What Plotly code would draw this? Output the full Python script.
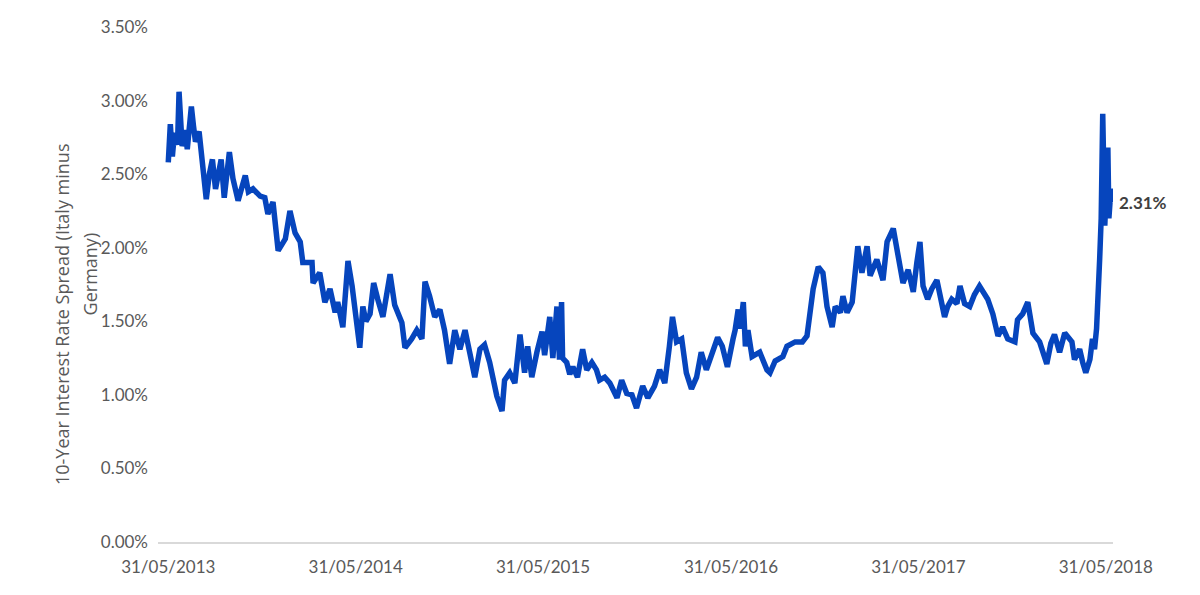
import plotly.graph_objects as go

dates = [
    "2013-05-31","2013-06-04","2013-06-08","2013-06-12","2013-06-18","2013-06-21","2013-06-27","2013-07-03",
    "2013-07-07","2013-07-15","2013-07-19","2013-07-23","2013-07-30","2013-08-05","2013-08-13","2013-08-19",
    "2013-08-25","2013-08-31","2013-09-06","2013-09-11","2013-09-17","2013-09-27","2013-10-04","2013-10-14",
    "2013-10-28","2013-11-03","2013-11-12","2013-11-26","2013-12-05","2013-12-11","2013-12-21","2013-12-31",
    "2014-01-14","2014-01-23","2014-02-02","2014-02-12","2014-02-17","2014-03-07","2014-03-09","2014-03-22",
    "2014-04-01","2014-04-11","2014-04-21","2014-04-26","2014-05-06","2014-05-16","2014-05-24","2014-05-30",
    "2014-06-08","2014-06-14","2014-06-20","2014-06-28","2014-07-05","2014-07-13","2014-07-23","2014-08-06",
    "2014-08-15","2014-08-29","2014-09-04","2014-09-17","2014-09-27","2014-10-07","2014-10-13","2014-10-22",
    "2014-11-01","2014-11-11","2014-11-20","2014-11-30","2014-12-10","2014-12-20","2014-12-30","2015-01-08",
    "2015-01-18","2015-01-28","2015-02-06","2015-02-16","2015-03-02","2015-03-12","2015-03-17","2015-03-27",
    "2015-04-06","2015-04-16","2015-04-25","2015-05-01","2015-05-09","2015-05-19","2015-05-29",
    "2015-06-03","2015-06-07","2015-06-13","2015-06-19","2015-06-27","2015-07-02","2015-07-06","2015-07-08",
    "2015-07-16","2015-07-22","2015-07-28","2015-08-06","2015-08-16","2015-08-24","2015-09-03","2015-09-12",
    "2015-09-18","2015-09-28","2015-10-08","2015-10-22","2015-10-31","2015-11-10","2015-11-20","2015-11-29",
    "2015-12-05","2015-12-11","2015-12-21","2016-01-03","2016-01-13","2016-01-23","2016-02-01","2016-02-07",
    "2016-02-15","2016-02-25","2016-03-05","2016-03-15","2016-03-25","2016-04-03","2016-04-13","2016-04-23",
    "2016-05-05","2016-05-14","2016-05-24",
    "2016-06-04","2016-06-08","2016-06-14","2016-06-18","2016-06-24","2016-06-28","2016-07-03","2016-07-11",
    "2016-07-26","2016-08-09","2016-08-15","2016-08-25","2016-09-09","2016-09-17","2016-10-03","2016-10-17",
    "2016-10-26","2016-11-01","2016-11-07","2016-11-17","2016-11-26","2016-12-04","2016-12-14","2016-12-20",
    "2016-12-30","2017-01-04","2017-01-12","2017-01-22","2017-01-28","2017-02-02","2017-02-10","2017-02-20",
    "2017-02-26","2017-03-11","2017-03-23","2017-03-31","2017-04-12","2017-04-21","2017-05-01","2017-05-11",
    "2017-05-21","2017-05-28",
    "2017-06-03","2017-06-09","2017-06-18","2017-06-26","2017-07-06","2017-07-21","2017-07-27","2017-08-04",
    "2017-08-14","2017-08-20","2017-08-29","2017-09-08","2017-09-17","2017-09-27","2017-10-13","2017-10-23",
    "2017-11-02","2017-11-11","2017-11-21","2017-12-05","2017-12-10","2017-12-20","2017-12-30","2018-01-09",
    "2018-01-22","2018-02-05","2018-02-13","2018-02-20","2018-03-02","2018-03-12","2018-03-26","2018-03-31",
    "2018-04-10","2018-04-16","2018-04-22","2018-04-30","2018-05-05","2018-05-09","2018-05-13","2018-05-19",
    "2018-05-22","2018-05-25","2018-05-29","2018-06-02","2018-06-04","2018-06-06","2018-06-08","2018-06-10",
    "2018-06-13",
]

spread = [
    2.58,2.84,2.62,2.78,2.70,3.06,2.69,2.80,
    2.67,2.96,2.83,2.72,2.79,2.55,2.33,2.50,
    2.60,2.40,2.52,2.60,2.34,2.65,2.47,2.32,
    2.49,2.38,2.40,2.35,2.34,2.23,2.31,1.98,
    2.06,2.25,2.10,2.04,1.90,1.90,1.76,1.83,
    1.63,1.72,1.56,1.63,1.46,1.91,1.74,1.58,
    1.32,1.60,1.50,1.55,1.76,1.65,1.53,1.82,
    1.61,1.49,1.32,1.38,1.44,1.38,1.77,1.67,
    1.53,1.58,1.44,1.21,1.44,1.31,1.44,1.29,
    1.12,1.31,1.34,1.22,0.99,0.89,1.10,1.15,
    1.08,1.41,1.15,1.33,1.12,1.29,1.43,
    1.27,1.40,1.53,1.25,1.60,1.24,1.63,1.25,
    1.22,1.14,1.19,1.12,1.31,1.17,1.22,1.17,
    1.10,1.12,1.08,0.98,1.10,1.01,1.00,0.91,
    1.00,1.06,0.98,1.06,1.17,1.08,1.33,1.53,
    1.36,1.38,1.15,1.04,1.12,1.29,1.17,1.26,
    1.39,1.33,1.19,
    1.38,1.44,1.58,1.45,1.63,1.33,1.44,1.26,
    1.29,1.17,1.15,1.23,1.26,1.33,1.36,1.36,
    1.40,1.60,1.72,1.87,1.83,1.60,1.46,1.60,
    1.56,1.67,1.56,1.63,1.87,2.01,1.83,2.01,
    1.81,1.92,1.78,2.04,2.13,1.97,1.76,1.85,
    1.70,1.90,
    2.04,1.74,1.65,1.72,1.78,1.53,1.60,1.65,
    1.62,1.74,1.62,1.60,1.68,1.74,1.65,1.55,
    1.40,1.46,1.38,1.36,1.51,1.55,1.63,1.42,
    1.36,1.21,1.35,1.41,1.29,1.42,1.36,1.24,
    1.31,1.22,1.15,1.24,1.38,1.31,1.45,1.92,
    2.20,2.91,2.15,2.50,2.68,2.20,2.26,2.40,
    2.31,
]

tick_dates = ["2013-05-31", "2014-05-31", "2015-05-31", "2016-05-31", "2017-05-31", "2018-05-31"]
tick_labels = ["31/05/2013", "31/05/2014", "31/05/2015", "31/05/2016", "31/05/2017", "31/05/2018"]
y_ticks = [0.0, 0.5, 1.0, 1.5, 2.0, 2.5, 3.0, 3.5]
y_tick_labels = ["0.00%", "0.50%", "1.00%", "1.50%", "2.00%", "2.50%", "3.00%", "3.50%"]

end_label = "2.31%"
y_title_1 = "10-Year Interest Rate Spread (Italy minus"
y_title_2 = "Germany)"

FONT = "Lato"
TITLE_FONT = "Open Sans"
GREY = "#595959"

fig = go.Figure()
fig.add_trace(go.Scatter(
    x=dates, y=spread, mode="lines",
    line=dict(color="#0645BD", width=5.5),
    hoverinfo="skip", showlegend=False,
))

fig.update_layout(
    width=1200, height=595,
    margin=dict(l=158, r=87, t=27, b=53),
    paper_bgcolor="white", plot_bgcolor="white",
    font=dict(family=FONT, color=GREY, size=17),
    xaxis=dict(
        type="date", range=["2013-05-11", "2018-06-14"],
        tickvals=tick_dates, ticktext=tick_labels,
        showgrid=False, zeroline=False,
        showline=True, linecolor="#D9D9D9", linewidth=2,
        ticks="", ticklabelstandoff=9, automargin=False,
        tickfont=dict(family=FONT, size=17, color=GREY),
    ),
    yaxis=dict(
        range=[0, 3.5], tickvals=y_ticks, ticktext=y_tick_labels,
        showgrid=False, zeroline=False, showline=False,
        ticks="", ticklabelstandoff=9, automargin=False,
        tickfont=dict(family=FONT, size=17, color=GREY),
    ),
    annotations=[
        dict(x=dates[-1], y=spread[-1], xref="x", yref="y", text="<b>" + end_label + "</b>",
             showarrow=False, xanchor="left", yanchor="middle", xshift=5, yshift=0,
             font=dict(family=FONT, size=17, color="#404040")),
        dict(x=-0.1005, y=0.4427, xref="paper", yref="paper", text=y_title_1, textangle=-90,
             showarrow=False, xanchor="center", yanchor="middle",
             font=dict(family=TITLE_FONT, size=18, color=GREY)),
        dict(x=-0.071, y=0.520, xref="paper", yref="paper", text=y_title_2, textangle=-90,
             showarrow=False, xanchor="center", yanchor="middle",
             font=dict(family=TITLE_FONT, size=18, color=GREY)),
    ],
)

fig.write_html("out.html", config={"displayModeBar": False},
               post_script="document.body.style.margin='0px';")
